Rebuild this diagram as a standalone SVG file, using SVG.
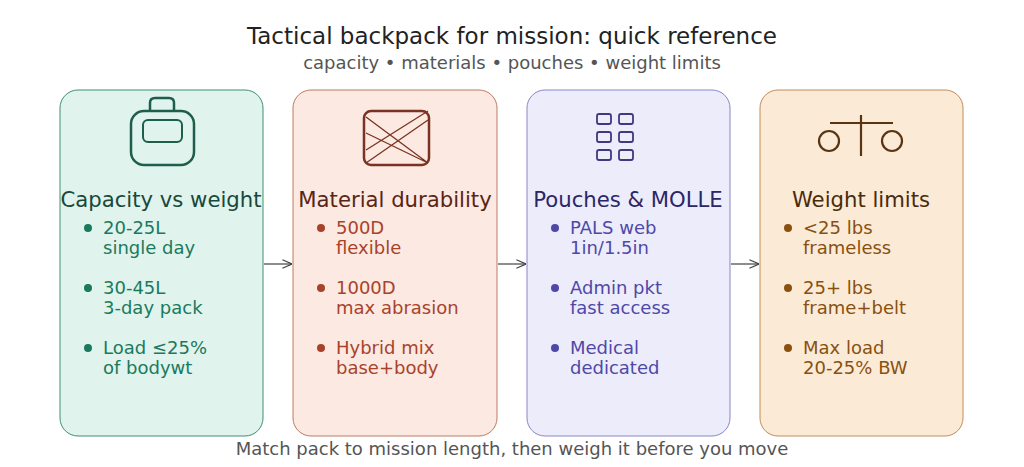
<svg xmlns="http://www.w3.org/2000/svg" width="1024" height="467" viewBox="0 0 1024 467">
<style>
text{font-family:"DejaVu Sans",sans-serif}
.t{font-size:23px;fill:#222;text-anchor:middle}
.s{font-size:18px;fill:#555;text-anchor:middle}
.h{font-size:21.2px;text-anchor:middle}
.b{font-size:18px}
.ic{fill:none;stroke-width:2.5}
</style>
<defs><marker id="a" markerWidth="8" markerHeight="8" refX="8" refY="4" orient="auto"><path d="M0,0.5 L8,4 L0,7.5" fill="none" stroke="#444" stroke-width="1"/></marker></defs>
<rect width="1024" height="467" fill="#fff"/>
<text class="t" x="512" y="44">Tactical backpack for mission: quick reference</text>
<text class="s" x="512" y="69">capacity • materials • pouches • weight limits</text>
<g id="n1">
<rect x="60" y="90" width="203" height="346" rx="18" fill="#e0f3ec" stroke="#3f8f73"/>
<g class="ic" stroke="#1d5e4c"><path d="M150,111 V103 Q150,98 155,98 H169 Q174,98 174,103 V111"/><rect x="131" y="111" width="63" height="54" rx="13"/><rect x="143" y="120" width="39" height="22" rx="5" stroke-width="2"/></g>
<text class="h" x="161" y="207" fill="#17493c">Capacity vs weight</text>
<g fill="#1a7a5e" class="b"><circle cx="88" cy="228" r="4"/><text x="103" y="234">20-25L</text><text x="103" y="254">single day</text>
<circle cx="88" cy="288" r="4"/><text x="103" y="294">30-45L</text><text x="103" y="314">3-day pack</text>
<circle cx="88" cy="348" r="4"/><text x="103" y="354">Load ≤25%</text><text x="103" y="374">of bodywt</text></g>
</g>
<g id="n2">
<rect x="293" y="90" width="204" height="346" rx="18" fill="#fbe9e2" stroke="#c07a63"/>
<g class="ic" stroke="#7a3320"><rect x="364" y="111" width="65" height="54" rx="7"/><path d="M366,117 L428,163 M366,150 L428,111 M366,133 L428,163 M366,163 L428,120" stroke-width="1.3"/></g>
<text class="h" x="395" y="207" fill="#5a2414">Material durability</text>
<g fill="#a8432a" class="b"><circle cx="321" cy="228" r="4"/><text x="336" y="234">500D</text><text x="336" y="254">flexible</text>
<circle cx="321" cy="288" r="4"/><text x="336" y="294">1000D</text><text x="336" y="314">max abrasion</text>
<circle cx="321" cy="348" r="4"/><text x="336" y="354">Hybrid mix</text><text x="336" y="374">base+body</text></g>
</g>
<g id="n3">
<rect x="527" y="90" width="203" height="346" rx="18" fill="#ececfb" stroke="#8a86c8"/>
<g fill="none" stroke="#3d3a80" stroke-width="1.8"><rect x="597" y="114" width="14" height="10" rx="2"/><rect x="619" y="114" width="14" height="10" rx="2"/><rect x="597" y="132" width="14" height="10" rx="2"/><rect x="619" y="132" width="14" height="10" rx="2"/><rect x="597" y="150" width="14" height="10" rx="2"/><rect x="619" y="150" width="14" height="10" rx="2"/></g>
<text class="h" x="628" y="207" fill="#2b2766">Pouches &amp; MOLLE</text>
<g fill="#5048a8" class="b"><circle cx="555" cy="228" r="4"/><text x="570" y="234">PALS web</text><text x="570" y="254">1in/1.5in</text>
<circle cx="555" cy="288" r="4"/><text x="570" y="294">Admin pkt</text><text x="570" y="314">fast access</text>
<circle cx="555" cy="348" r="4"/><text x="570" y="354">Medical</text><text x="570" y="374">dedicated</text></g>
</g>
<g id="n4">
<rect x="760" y="90" width="203" height="346" rx="18" fill="#fbebd6" stroke="#c08c58"/>
<g fill="none" stroke="#5a3412" stroke-width="2.2"><path d="M830,123 H893 M861,115 V156"/><circle cx="829" cy="141" r="10"/><circle cx="892" cy="141" r="10"/></g>
<text class="h" x="861" y="207" fill="#4a2a0c">Weight limits</text>
<g fill="#8a5010" class="b"><circle cx="788" cy="228" r="4"/><text x="803" y="234">&lt;25 lbs</text><text x="803" y="254">frameless</text>
<circle cx="788" cy="288" r="4"/><text x="803" y="294">25+ lbs</text><text x="803" y="314">frame+belt</text>
<circle cx="788" cy="348" r="4"/><text x="803" y="354">Max load</text><text x="803" y="374">20-25% BW</text></g>
</g>
<g id="connectors" stroke="#444" stroke-width="1.2" marker-end="url(#a)">
<line x1="264" y1="264" x2="292" y2="264"/><line x1="498" y1="264" x2="526" y2="264"/><line x1="731" y1="264" x2="759" y2="264"/>
</g>
<text class="s" x="512" y="455" font-size="19">Match pack to mission length, then weigh it before you move</text>
</svg>
